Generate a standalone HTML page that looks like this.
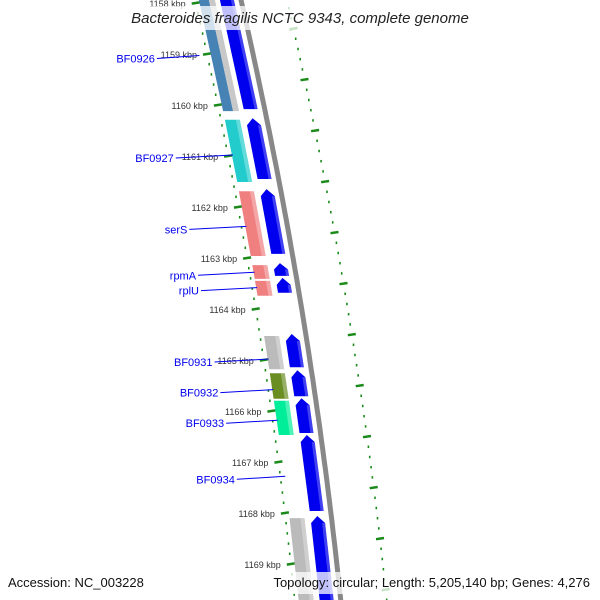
<!DOCTYPE html>
<html><head><meta charset="utf-8">
<style>
html,body{margin:0;padding:0;background:#fff;}
svg{display:block;font-family:"Liberation Sans","DejaVu Sans",sans-serif;}
</style></head>
<body>
<svg id="map" width="600" height="600" viewBox="0 0 600 600" xmlns="http://www.w3.org/2000/svg">
<g id="rings"></g>
<g id="feats"></g>
<g id="labels"></g>
<rect x="122" y="6" width="356" height="24" fill="#fff" opacity="0.75"/>
<text x="300" y="23" text-anchor="middle" font-size="15" font-style="italic" fill="#222">Bacteroides fragilis NCTC 9343, complete genome</text>
<rect x="258" y="572" width="338" height="22" fill="#fff" opacity="0.75"/>
<text x="8" y="587" font-size="13" fill="#111">Accession: NC_003228</text>
<text x="590" y="587" text-anchor="end" font-size="13" fill="#111">Topology: circular; Length: 5,205,140 bp; Genes: 4,276</text>
</svg>
<script>
// data
const tickKbp = [1158,1159,1160,1161,1162,1163,1164,1165,1166,1167,1168,1169];
const revStarts = [1157.9,1160.27,1161.67,1163.12,1163.43,1164.51,1165.24,1165.78,1168.08];
const revEnds   = [1160.14,1161.53,1162.98,1163.43,1163.76,1165.2,1165.78,1166.49,1170];
const revColors = ["#4682b4","#22cccc","#f08080","#f08080","#f08080","#bbbbbb","#6b8e23","#00ee99","#bbbbbb"];
const fwdStarts = [1157.9,1160.24,1161.63,1163.08,1163.37,1164.47,1165.18,1165.73,1166.45,1168.04];
const fwdEnds   = [1160.1,1161.47,1162.94,1163.37,1163.7,1165.16,1165.73,1166.45,1167.98,1170];
const geneNames = ["BF0926","BF0927","serS","rpmA","rplU","BF0931","BF0932","BF0933","BF0934"];
const geneKbp   = [1159.05,1161.0,1162.4,1163.3,1163.6,1165.0,1165.6,1166.2,1167.3];

const NS="http://www.w3.org/2000/svg";
function Y(k){return 105+(k-1160)*51;}
function K(y){return 1160+(y-105)/51;}
function f(y){return 0.2286*y-0.000104*y*y;}
function el(tag,attrs,parent){const e=document.createElementNS(NS,tag);for(const a in attrs)e.setAttribute(a,attrs[a]);parent.appendChild(e);return e;}
const rings=document.getElementById('rings'),feats=document.getElementById('feats'),labels=document.getElementById('labels');

// backbone
let pts=[];for(let y=-10;y<=610;y+=10)pts.push((241+f(y)).toFixed(1)+","+y);
let bb=el('polyline',{points:pts.join(" "),fill:"none",stroke:"#888",'stroke-width':5},rings);


// inner ticks
for(let k=1157.8;k<=1170.2;k+=0.2){
  const y=Y(k),x=195+f(y),major=Math.abs(k-Math.round(k))<0.01;
  const t=el('line',{x1:(x-(major?4:0.8)).toFixed(1),y1:y+(major?0.6:0),x2:(x+(major?4:0.8)).toFixed(1),y2:y-(major?0.6:0),stroke:"#1a8a1a",'stroke-width':2.5},rings);
  
  
}
// outer ring
for(let k=1157.8;k<=1170.2;k+=0.2){
  const y=Y(k)-5,x=287+f(y),major=Math.abs(k-0.6-Math.round(k-0.6))<0.01;
  const t=el('line',{x1:(x-(major?4:0.8)).toFixed(1),y1:y+(major?0.6:0),x2:(x+(major?4:0.8)).toFixed(1),y2:y-(major?0.6:0),stroke:"#1a8a1a",'stroke-width':2.5},rings);
  
  
}
// tick labels
tickKbp.forEach(k=>{
  const y=Y(k);
  const t=el('text',{x:(185+f(y)).toFixed(1),y:y+4,'text-anchor':'end','font-size':9,fill:'#333'},labels);
  t.textContent=k+" kbp";
  
  
});
function quad(L,w,y1,y2){return [[L+f(y1),y1],[L+w+f(y1),y1],[L+w+f(y2),y2],[L+f(y2),y2]];}
function poly(points,fill,parent,name){
  const p=el('polygon',{points:points.map(p=>p[0].toFixed(1)+","+p[1].toFixed(1)).join(" "),fill:fill},parent);
  
  
  return p;
}
// reverse features
revStarts.forEach((s,i)=>{
  const y1=Y(s)+1,y2=Y(revEnds[i])-1;
  if(i===0){
    poly(quad(199,10,y1,y2),revColors[i],feats,'reverse-feature');
    poly(quad(209,6,y1,y2),"#c8c8c8",feats,'reverse-feature');
  } else {
    poly(quad(199,15,y1,y2),revColors[i],feats,'reverse-feature');
    const h=el('polygon',{points:quad(210,4,y1,y2).map(p=>p[0].toFixed(1)+","+p[1]).join(" "),fill:"#fff",opacity:0.3},feats);
    
    
  }
});
// forward features (arrowhead on top)
fwdStarts.forEach((s,i)=>{
  const y1=Y(s)+1,y2=Y(fwdEnds[i])-1,L=220,w=14;
  const head=i===0?0:Math.min(7,(y2-y1)/2);
  const p=[[L+f(y1+head),y1+head],[L+w/2+f(y1),y1],[L+w+f(y1+head),y1+head],[L+w+f(y2),y2],[L+f(y2),y2]];
  poly(p,"#0000ee",feats,'forward-feature');
  const h=el('polygon',{points:quad(L+w-3,3,y1+head,y2).map(p=>p[0].toFixed(1)+","+p[1]).join(" "),fill:"#fff",opacity:0.25},feats);
  
  
});
// gene labels
geneNames.forEach((n,i)=>{
  const ty=Y(geneKbp[i]);
  const ly=ty+6,tx=ly*0.19+143-(n.length<5?0:0);
  const tipY=ty-1,tipX=200+f(tipY)+ (i===0?-13:0);
  const line=el('line',{x1:tx+2,y1:ly-4,x2:tipX.toFixed(1),y2:tipY,stroke:'#0000ee','stroke-width':1},labels);
  
  
  const t=el('text',{x:tx,y:ly,'text-anchor':'end','font-size':11,fill:'#0000ee'},labels);
  t.textContent=n;
  
  
});
</script>
</body></html>
